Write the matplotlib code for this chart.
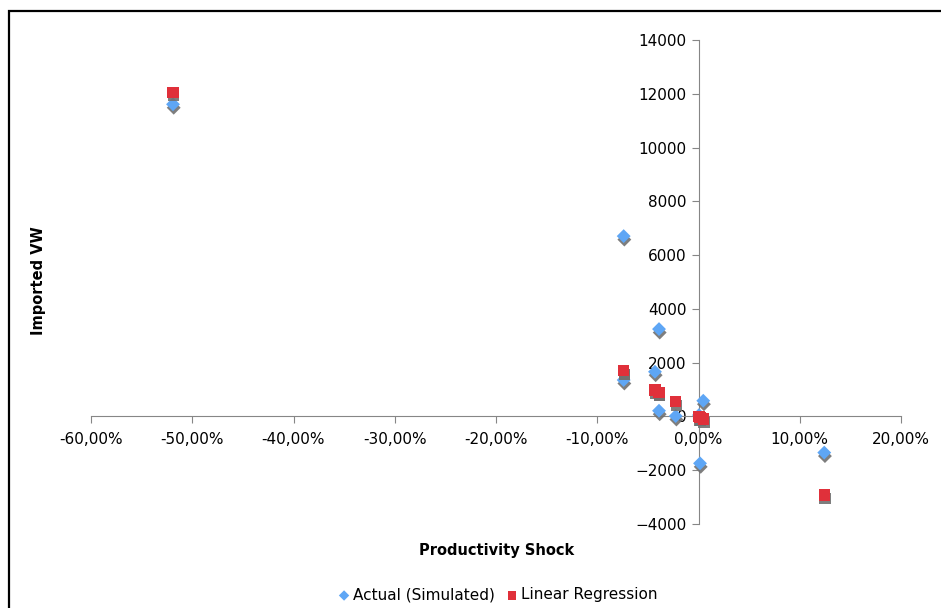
import numpy as np
import matplotlib
matplotlib.use('Agg')
import matplotlib.pyplot as plt
import matplotlib.patheffects as pe
from matplotlib.patches import Rectangle
from matplotlib.ticker import FuncFormatter, MultipleLocator

## values (shock in %, imported VW)
shock = [-51.9, -7.39, -7.39, -4.3, -3.9, -3.9, -2.25, 0.05, 0.15, 0.47, 12.42]
actual = [11610, 6706, 1354, 1662, 3249, 212, 15, 52, -1744, 584, -1345]
regression = [12060, 1700, 1700, 982, 896, 896, 547, -11, -30, -97, -2923]

fig = plt.figure(figsize=(9.41, 6.08), dpi=100)
ax = fig.add_axes([91/941, 1-524/608, 810/941, 484/608])

# outer chart frame (runs off the right / bottom edges like the original)
fig.patches.append(Rectangle((9/941, -0.1), 1.2, 1 - 11/608 + 0.1, transform=fig.transFigure,
                             fill=False, edgecolor='black', linewidth=1.6))

shadow = [pe.SimplePatchShadow(offset=(0.5, -2.5), shadow_rgbFace='#707070', alpha=0.9), pe.Normal()]

ax.scatter(shock, actual, marker='D', s=50, color='#5ea6f5', edgecolors='none',
           label='Actual (Simulated)', zorder=3, path_effects=shadow)
ax.scatter(shock, regression, marker='s', s=65, color='#e0303a', edgecolors='none',
           label='Linear Regression', zorder=4, path_effects=shadow)

ax.set_xlim(-60, 20)
ax.set_ylim(-4000, 14000)
ax.xaxis.set_major_locator(MultipleLocator(10))
ax.yaxis.set_major_locator(MultipleLocator(2000))
ax.xaxis.set_major_formatter(FuncFormatter(lambda v, p: ('%.2f%%' % v).replace('.', ',')))

ax.spines['left'].set_position(('data', 0))
ax.spines['bottom'].set_position(('data', 0))
ax.spines['right'].set_visible(False)
ax.spines['top'].set_visible(False)
for s in ['left', 'bottom']:
    ax.spines[s].set_color('#868686')
ax.tick_params(axis='both', colors='#868686', labelcolor='black', labelsize=11, length=5, direction='out')
ax.tick_params(axis='x', pad=6)

fig.text(38/941, 1-281/608, 'Imported VW', rotation=90, ha='center', va='center',
         fontsize=10.5, fontweight='bold')
fig.text(497/941, 1-551/608, 'Productivity Shock', ha='center', va='center',
         fontsize=10.5, fontweight='bold')

leg = fig.legend(loc='center', bbox_to_anchor=(497/941, 1-595/608), ncol=2, frameon=False,
                 fontsize=11, handletextpad=0.1, columnspacing=0.6, handlelength=1,
                 markerscale=0.75)
for h in leg.legend_handles:
    h.set_path_effects([])

fig.savefig('out.png', dpi=100)
